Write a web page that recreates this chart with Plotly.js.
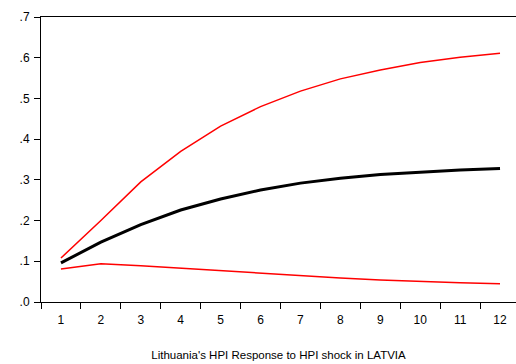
<!DOCTYPE html>
<html>
<head>
<meta charset="utf-8">
<script src="https://cdn.plot.ly/plotly-3.0.1.min.js"></script>
<style>html,body{margin:0;padding:0;background:#fff;}#chart{width:516px;height:364px;}</style>
</head>
<body>
<div id="chart"></div>
<script>
var periods = [1,2,3,4,5,6,7,8,9,10,11,12];
var response = [0.096,0.147,0.190,0.226,0.253,0.275,0.292,0.304,0.313,0.319,0.324,0.328];
var upperBand = [0.108,0.200,0.295,0.370,0.432,0.480,0.518,0.548,0.570,0.588,0.601,0.611];
var lowerBand = [0.081,0.094,0.089,0.083,0.076,0.070,0.064,0.059,0.054,0.050,0.047,0.045];
var yTickVals = [0,0.1,0.2,0.3,0.4,0.5,0.6,0.7];
var yTickText = ['.0','.1','.2','.3','.4','.5','.6','.7'];
var xTickText = periods.map(String);

var traces = [
  {x: periods, y: upperBand, mode: 'lines', line: {color: '#ff0000', width: 1.5}, hoverinfo: 'skip'},
  {x: periods, y: lowerBand, mode: 'lines', line: {color: '#ff0000', width: 1.5}, hoverinfo: 'skip'},
  {x: periods, y: response, mode: 'lines', line: {color: '#000000', width: 3}, hoverinfo: 'skip'}
];

var layout = {
  width: 516, height: 364,
  margin: {l: 41, r: 0, t: 17, b: 62},
  paper_bgcolor: '#ffffff', plot_bgcolor: '#ffffff',
  showlegend: false,
  font: {family: 'Liberation Sans, Arial, sans-serif', size: 12, color: '#000'},
  xaxis: {
    range: [0.5, 12.4],
    tickvals: periods, ticktext: xTickText,
    ticks: '', showgrid: false, zeroline: false,
    showline: true, linecolor: '#000', linewidth: 1, mirror: true,
    minor: {ticks: 'outside', tick0: 0.5, dtick: 1, ticklen: 6, tickcolor: '#000', tickwidth: 1, showgrid: false},
    tickfont: {size: 12},
    ticklabelstandoff: 7,
    title: {text: "Lithuania's HPI Response to HPI shock in LATVIA", font: {size: 11.5}, standoff: 24}
  },
  yaxis: {
    range: [0, 0.7],
    tickvals: yTickVals, ticktext: yTickText,
    ticks: 'outside', ticklen: 6, tickcolor: '#000', tickwidth: 1,
    showgrid: false, zeroline: false,
    showline: true, linecolor: '#000', linewidth: 1, mirror: false,
    tickfont: {size: 12},
    ticklabelstandoff: 2
  }
};

Plotly.newPlot('chart', traces, layout, {staticPlot: true, displayModeBar: false});
</script>
</body>
</html>
